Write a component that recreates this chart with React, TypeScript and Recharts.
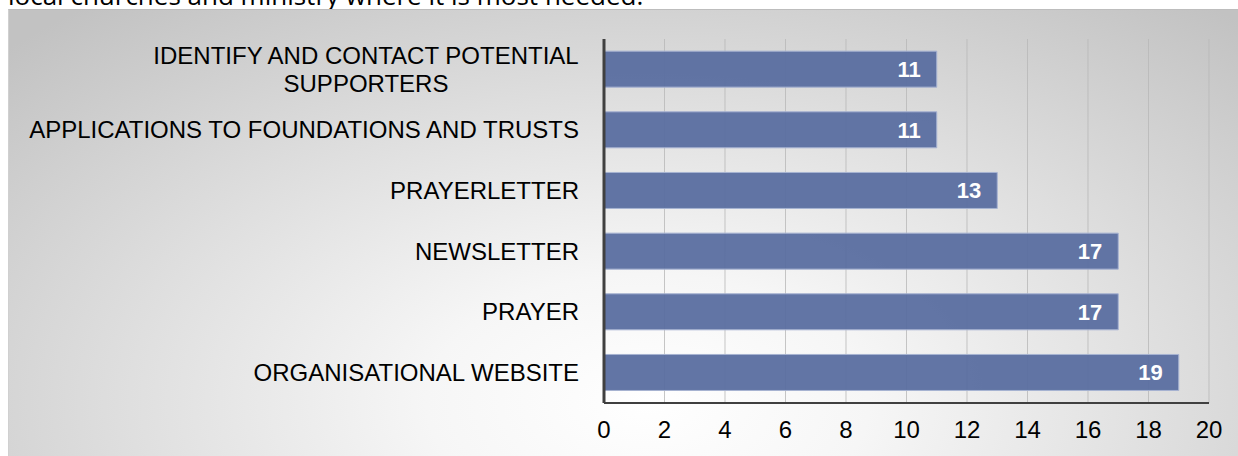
import { Bar, BarChart, CartesianGrid, LabelList, XAxis, YAxis } from "recharts";

const categories = [
  "IDENTIFY AND CONTACT POTENTIAL|SUPPORTERS",
  "APPLICATIONS TO FOUNDATIONS AND TRUSTS",
  "PRAYERLETTER",
  "NEWSLETTER",
  "PRAYER",
  "ORGANISATIONAL WEBSITE",
];
const counts = [11, 11, 13, 17, 17, 19];
const xTicks = [0, 2, 4, 6, 8, 10, 12, 14, 16, 18, 20];

const data = categories.map((name, i) => ({ name, value: counts[i] }));

const BAR_COLOR = "#5a6ea0";
const FONT = "'Liberation Sans', Arial, sans-serif";

function CategoryTick(props: any) {
  const { x, y, payload } = props;
  const lines = String(payload.value).split("|");
  const lineH = 28;
  const start = y - ((lines.length - 1) * lineH) / 2;
  // wrapped labels: lines centred on each other, block right-aligned to the axis
  const widest = Math.max(...lines.map((l) => l.length));
  const right = x - 17;
  return (
    <g>
      {lines.map((line, i) => (
        <text
          key={i}
          x={lines.length > 1 ? right - (widest * 14.2) / 2 : right}
          y={start + i * lineH}
          dy="0.35em"
          textAnchor={lines.length > 1 ? "middle" : "end"}
          fontSize={24}
          fontFamily={FONT}
          fill="#000"
        >
          {line}
        </text>
      ))}
    </g>
  );
}

export default function App() {
  return (
    <div style={{ position: "fixed", left: 0, top: 0, width: 1238, height: 456, overflow: "hidden", background: "#fff" }}>
      <div
        style={{
          position: "absolute",
          left: 8,
          top: -23,
          fontFamily: "'Open Sans', sans-serif",
          fontSize: 26,
          whiteSpace: "nowrap",
          color: "#000",
        }}
      >
        local churches and ministry where it is most needed.
      </div>
      <div
        style={{
          position: "absolute",
          left: 8,
          top: 9,
          width: 1230,
          height: 447,
          borderTop: "1px solid #bdbdbd",
          borderLeft: "1px solid #d0d0d0",
          boxSizing: "border-box",
          background:
            "radial-gradient(ellipse 72% 115% at 52% 88%, #ffffff 0%, #f6f6f6 25%, #dedede 60%, #c2c2c2 100%)",
        }}
      >
        <BarChart
          width={1230}
          height={447}
          data={data}
          layout="vertical"
          margin={{ top: 29, right: 30, bottom: 0, left: 0 }}
          barCategoryGap="20%"
        >
          <CartesianGrid horizontal={false} stroke="#b8b8b8" strokeOpacity={0.8} />
          <XAxis
            type="number"
            domain={[0, 20]}
            ticks={xTicks}
            interval={0}
            height={54}
            tickLine={false}
            tickSize={0}
            tickMargin={18}
            axisLine={{ stroke: "#404040", strokeWidth: 2 }}
            tick={{ fontSize: 24, fontFamily: FONT, fill: "#000" }}
          />
          <YAxis
            type="category"
            dataKey="name"
            width={595}
            tickLine={false}
            axisLine={{ stroke: "#404040", strokeWidth: 3 }}
            tick={<CategoryTick />}
            interval={0}
          />
          <Bar
            dataKey="value"
            fill={BAR_COLOR}
            fillOpacity={0.95}
            stroke="#a7b3d2"
            strokeWidth={1}
            isAnimationActive={false}
          >
            <LabelList
              dataKey="value"
              position="insideRight"
              offset={16}
              fill="#fff"
              fontSize={22}
              fontWeight="bold"
              fontFamily={FONT}
            />
          </Bar>
        </BarChart>
      </div>
    </div>
  );
}
